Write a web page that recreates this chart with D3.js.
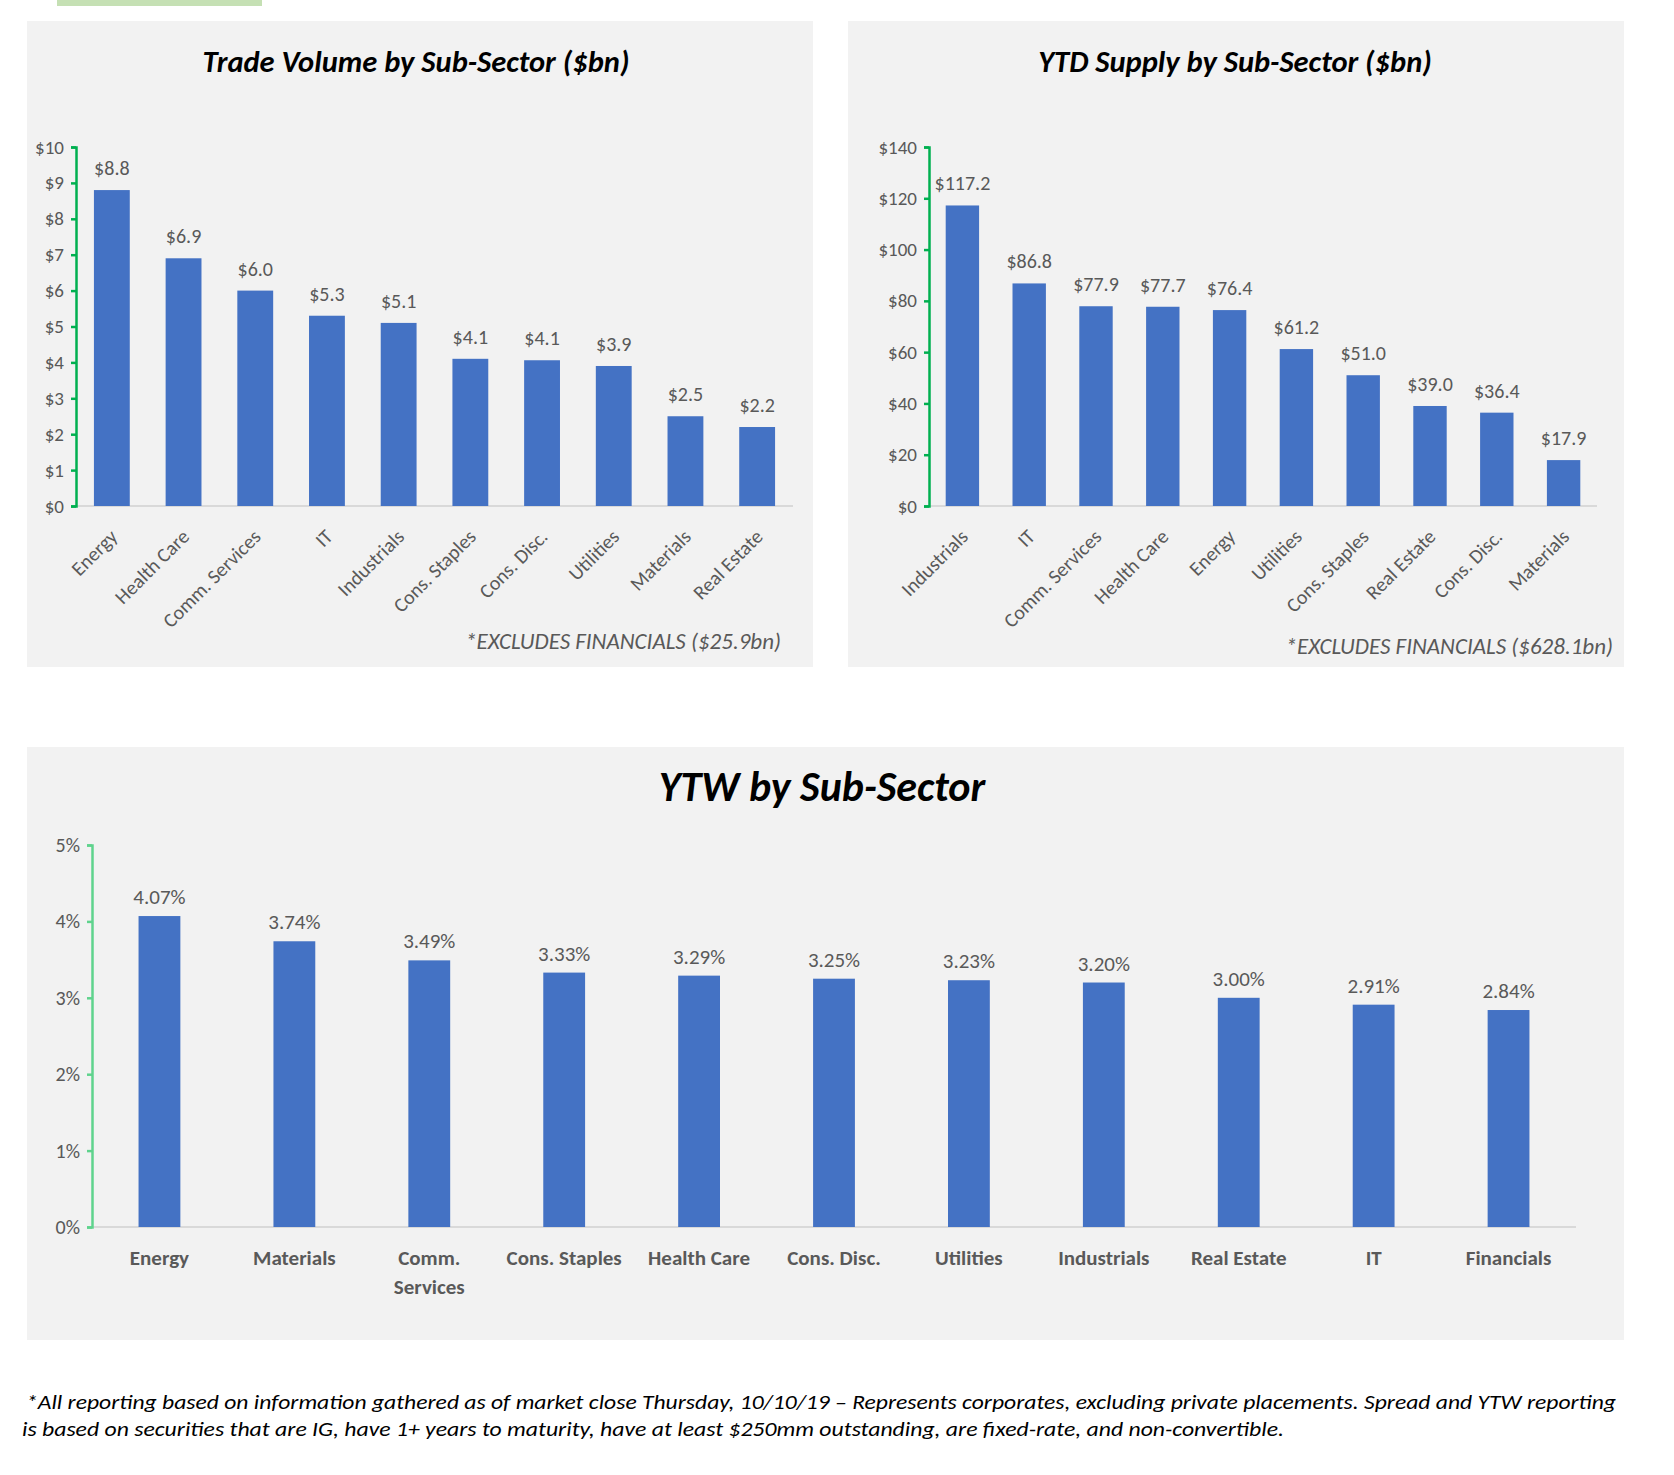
<!DOCTYPE html>
<html><head><meta charset="utf-8">
<script src="https://cdn.jsdelivr.net/npm/d3@7/dist/d3.min.js"></script>
<style>
body{margin:0;background:#fff;}
svg{display:block;}
</style></head>
<body>
<svg id="c" width="1674" height="1475"></svg>
<script>
// ---- DATA ----
const tradeCategories = ["Energy","Health Care","Comm. Services","IT","Industrials","Cons. Staples","Cons. Disc.","Utilities","Materials","Real Estate"];
const tradeValues = [8.8, 6.9, 6.0, 5.3, 5.1, 4.1, 4.06, 3.9, 2.5, 2.2];
const tradeTicks = [0,1,2,3,4,5,6,7,8,9,10];

const supplyCategories = ["Industrials","IT","Comm. Services","Health Care","Energy","Utilities","Cons. Staples","Real Estate","Cons. Disc.","Materials"];
const supplyValues = [117.2, 86.8, 77.9, 77.7, 76.4, 61.2, 51.0, 39.0, 36.4, 17.9];
const supplyTicks = [0,20,40,60,80,100,120,140];

const ytwCategories = ["Energy","Materials","Comm. Services","Cons. Staples","Health Care","Cons. Disc.","Utilities","Industrials","Real Estate","IT","Financials"];
const ytwValues = [4.07, 3.74, 3.49, 3.33, 3.29, 3.25, 3.23, 3.20, 3.00, 2.91, 2.84];
const ytwTicks = [0,1,2,3,4,5];

const FONT = "Carlito, 'Liberation Sans Narrow', Lato, 'Open Sans', sans-serif";
const GRAY = "#595959", BAR = "#4472C4", GREEN = "#00B050", PANEL = "#F2F2F2";

const svg = d3.select("#c");
svg.append("rect").attr("x",57).attr("y",0).attr("width",205).attr("height",6).attr("fill","#C5E0B4");

function panel(x,y,w,h){ svg.append("rect").attr("x",x).attr("y",y).attr("width",w).attr("height",h).attr("fill",PANEL); }
panel(27,21,786,646);
panel(848,21,776,646);
panel(27,747,1597,593);

function barChart(o){
  const g = svg.append("g");
  const x = d3.scaleBand().domain(o.cats).range([o.x0,o.x1]).paddingInner(o.pad).paddingOuter(o.pad/2);
  const y = d3.scaleLinear().domain(o.dom).range([o.y0,o.y1]);
  g.append("line").attr("x1",o.x0).attr("x2",o.x1).attr("y1",o.y0).attr("y2",o.y0).attr("stroke","#D9D9D9").attr("stroke-width",2);
  const ax = g.append("g").attr("transform",`translate(${o.x0},0)`)
    .call(d3.axisLeft(y).tickValues(o.ticks).tickSize(5).tickPadding(7).tickFormat(o.tickFmt));
  ax.select(".domain").attr("stroke",o.axisColor).attr("stroke-width",2.5);
  ax.selectAll(".tick line").attr("stroke",o.axisColor).attr("stroke-width",2.5);
  ax.selectAll(".tick text").attr("fill",GRAY).attr("font-family",FONT).attr("font-size",o.tickSize);
  g.selectAll("rect.bar").data(o.vals).join("rect").attr("class","bar")
    .attr("x",(d,i)=>x(o.cats[i])).attr("width",x.bandwidth())
    .attr("y",d=>y(d)).attr("height",d=>o.y0-y(d)).attr("fill",BAR);
  g.selectAll("text.lbl").data(o.vals).join("text").attr("class","lbl")
    .attr("x",(d,i)=>x(o.cats[i])+x.bandwidth()/2).attr("y",d=>y(d)-o.lblGap)
    .attr("text-anchor","middle").attr("fill",GRAY).attr("font-family",FONT).attr("font-size",o.lblSize)
    .text(o.lblFmt);
  return {g,x,y};
}

const c1 = barChart({cats:tradeCategories, vals:tradeValues, x0:76, x1:793, y0:506, y1:147, dom:[0,10], ticks:tradeTicks,
  pad:0.5, tickFmt:d=>"$"+d, lblFmt:d=>"$"+d.toFixed(1), tickSize:19, lblSize:20, lblGap:15, axisColor:GREEN});
const c2 = barChart({cats:supplyCategories, vals:supplyValues, x0:929, x1:1597, y0:506, y1:147, dom:[0,140], ticks:supplyTicks,
  pad:0.5, tickFmt:d=>"$"+d, lblFmt:d=>"$"+d.toFixed(1), tickSize:19, lblSize:20, lblGap:15, axisColor:GREEN});
const c3 = barChart({cats:ytwCategories, vals:ytwValues, x0:92, x1:1576, y0:1227, y1:845, dom:[0,5], ticks:ytwTicks,
  pad:0.69, tickFmt:d=>d+"%", lblFmt:d=>d.toFixed(2)+"%", tickSize:20, lblSize:21, lblGap:12, axisColor:"#5FD38D"});

function rotLabels(c, cats){
  c.g.selectAll("text.xl").data(cats).join("text").attr("class","xl")
    .attr("transform",d=>`translate(${c.x(d)+c.x.bandwidth()/2-3},${528}) rotate(-45)`)
    .attr("text-anchor","end").attr("dy","0.7em").attr("fill",GRAY).attr("font-family",FONT).attr("font-size",20)
    .text(d=>d);
}
rotLabels(c1, tradeCategories);
rotLabels(c2, supplyCategories);

c3.g.selectAll("text.xl").data(ytwCategories).join("text").attr("class","xl")
  .attr("x",d=>c3.x(d)+c3.x.bandwidth()/2).attr("y",1265)
  .attr("text-anchor","middle").attr("fill",GRAY).attr("font-family",FONT).attr("font-size",21).attr("font-weight",600)
  .each(function(d){
    const t = d3.select(this);
    const parts = d==="Comm. Services" ? ["Comm.","Services"] : [d];
    parts.forEach((p,i)=>t.append("tspan").attr("x",c3.x(d)+c3.x.bandwidth()/2).attr("dy",i?"1.4em":0).text(p));
  });

function title(txt,x,y,size){
  svg.append("text").attr("x",x).attr("y",y).attr("text-anchor","middle").attr("font-family",FONT)
    .attr("font-size",size).attr("font-weight",700).attr("font-style","italic").attr("fill","#000").text(txt);
}
title("Trade Volume by Sub-Sector ($bn)",416,72,30.5);
title("YTD Supply by Sub-Sector ($bn)",1235,72,30.5);
title("YTW by Sub-Sector",822,801,42);

function note(txt,x,y){
  svg.append("text").attr("x",x).attr("y",y).attr("text-anchor","end").attr("font-family",FONT)
    .attr("font-size",23).attr("font-style","italic").attr("fill",GRAY).text(txt);
}
note("*EXCLUDES FINANCIALS ($25.9bn)",781,649);
note("*EXCLUDES FINANCIALS ($628.1bn)",1613,654);

const fn = svg.append("text").attr("font-family",FONT).attr("font-size",21).attr("font-style","italic").attr("fill","#000");
fn.append("tspan").attr("x",26).attr("y",1409).attr("textLength",1590).attr("lengthAdjust","spacingAndGlyphs")
  .text("*All reporting based on information gathered as of market close Thursday, 10/10/19 \u2013 Represents corporates, excluding private placements. Spread and YTW reporting");
fn.append("tspan").attr("x",22).attr("y",1436).attr("textLength",1262).attr("lengthAdjust","spacingAndGlyphs")
  .text("is based on securities that are IG, have 1+ years to maturity, have at least $250mm outstanding, are fixed-rate, and non-convertible.");
</script>
</body></html>
